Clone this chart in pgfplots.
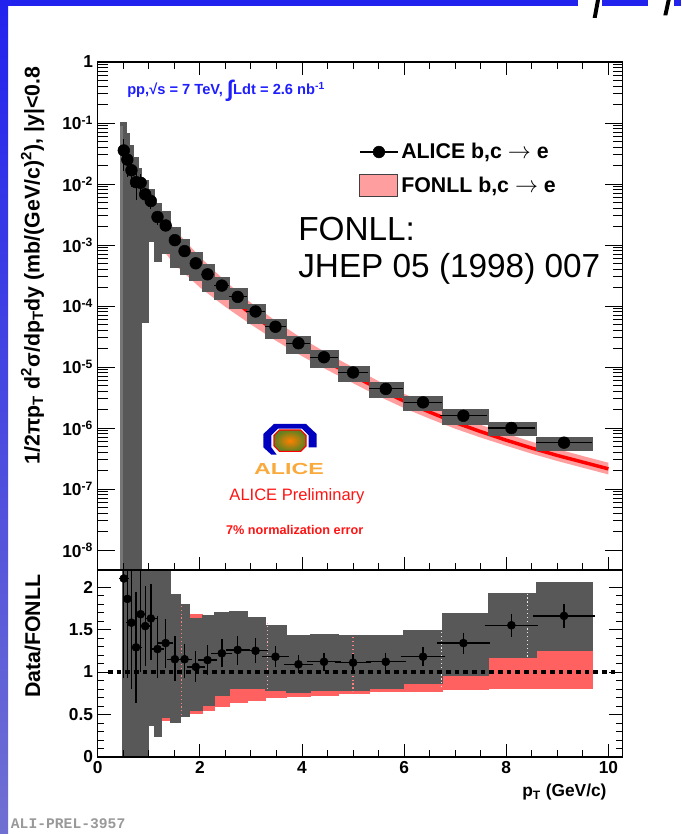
\documentclass[border=0pt]{standalone}
\usepackage{fontspec}
\setmainfont{Liberation Sans}
\newfontfamily\monofont{Liberation Mono}
\usepackage{pgfplots}
\usepackage{pgfplotstable}
\pgfplotsset{compat=1.18}
\definecolor{boxgray}{RGB}{88,88,88}
\definecolor{fonllpink}{RGB}{255,158,158}
\definecolor{ratiored}{RGB}{255,96,96}
\definecolor{fonllred}{RGB}{255,0,0}
\definecolor{ppblue}{RGB}{30,30,255}
\definecolor{alicered}{RGB}{255,20,20}
\definecolor{slideblue}{RGB}{34,34,238}
\definecolor{slidelav}{RGB}{112,112,210}
\definecolor{aliceorange}{RGB}{250,170,60}

% box helpers: xlo, xhi, low, high
\newcommand{\gbox}[4]{\addplot[fill=boxgray, draw=boxgray, line width=0.3pt, forget plot] coordinates {(#1,#3) (#2,#3) (#2,#4) (#1,#4)} -- cycle;}
\newcommand{\rbox}[4]{\addplot[fill=ratiored, draw=ratiored, line width=0.3pt, forget plot] coordinates {(#1,#3) (#2,#3) (#2,#4) (#1,#4)} -- cycle;}

% upper panel: data points (x, y, half bin width, stat error)
\pgfplotstableread{
x y ex ey
0.51 0.0355 0.035 0.019
0.58 0.0251 0.035 0.0121
0.66 0.0168 0.04 0.0080
0.75 0.01072 0.05 0.0052
0.84 0.01047 0.045 0.0040
0.93 0.00676 0.045 0.0019
1.04 0.00525 0.06 0.0013
1.17 0.00288 0.075 0.00075
1.33 0.00209 0.085 0.0004
1.51 0.00120 0.10 0.00024
1.70 7.94e-4 0.09 1.2e-4
1.92 5.01e-4 0.12 6.5e-5
2.15 3.31e-4 0.12 4e-5
2.43 2.16e-4 0.145 2.3e-5
2.74 1.41e-4 0.175 1.6e-5
3.09 8.13e-5 0.18 7e-6
3.48 4.57e-5 0.205 3.5e-6
3.93 2.45e-5 0.235 1.6e-6
4.43 1.445e-5 0.275 9e-7
5.00 8.13e-6 0.30 5.1e-7
5.64 4.37e-6 0.335 2.7e-7
6.37 2.63e-6 0.38 1.8e-7
7.16 1.585e-6 0.455 1.06e-7
8.10 1.0e-6 0.465 6.5e-8
9.13 5.75e-7 0.55 3.8e-8
}\updata

% FONLL central curve
\pgfplotstableread{
x c
0.5 1.698e-2
0.75 8.318e-3
1.0 3.802e-3
1.5 1.047e-3
2.0 3.802e-4
2.5 1.585e-4
3.0 7.413e-5
3.5 3.802e-5
4.0 2.089e-5
4.5 1.202e-5
5.0 7.244e-6
5.5 4.365e-6
6.0 2.754e-6
6.5 1.820e-6
7.0 1.230e-6
7.5 8.710e-7
8.0 6.310e-7
8.5 4.677e-7
9.0 3.548e-7
9.5 2.754e-7
10.0 2.138e-7
}\fonll

% ratio panel: points
\pgfplotstableread{
x y ex em ep
0.51 2.10 0.035 1.14 1.14
0.58 1.86 0.035 0.90 0.90
0.66 1.58 0.04 0.75 0.75
0.75 1.29 0.05 0.62 0.62
0.84 1.68 0.045 0.64 0.64
0.93 1.54 0.045 0.44 0.44
1.04 1.63 0.06 0.45 0.37
1.17 1.27 0.075 0.31 0.36
1.33 1.34 0.085 0.26 0.25
1.51 1.15 0.10 0.22 0.24
1.70 1.15 0.09 0.19 0.15
1.92 1.06 0.12 0.14 0.15
2.15 1.14 0.12 0.14 0.14
2.43 1.22 0.145 0.13 0.13
2.74 1.26 0.175 0.14 0.13
3.09 1.25 0.18 0.11 0.11
3.48 1.18 0.205 0.09 0.09
3.93 1.09 0.235 0.07 0.07
4.43 1.12 0.275 0.07 0.07
5.00 1.11 0.30 0.07 0.07
5.64 1.12 0.335 0.07 0.07
6.37 1.18 0.38 0.08 0.08
7.16 1.34 0.455 0.09 0.09
8.10 1.55 0.465 0.10 0.10
9.13 1.66 0.55 0.11 0.11
}\ratdata

\begin{document}
\begin{tikzpicture}
\fill[white] (0,0) rectangle (510.75pt,625.5pt);
% slide decorations
\shade[top color=slideblue, bottom color=slidelav] (0,0) rectangle (6pt,625.5pt);
\fill[slideblue] (0,621pt) rectangle (433.5pt,625.5pt);
\fill[slideblue] (451.5pt,621pt) rectangle (486pt,625.5pt);
\fill[slideblue] (505.5pt,621pt) rectangle (510.75pt,625.5pt);
\fill[black] (444.5pt,612pt) -- (447.5pt,612pt) -- (450pt,625.5pt) -- (447pt,625.5pt) -- cycle;
\fill[black] (497.5pt,614pt) -- (500.5pt,614pt) -- (503pt,625.5pt) -- (500pt,625.5pt) -- cycle;
\node[anchor=north west, inner sep=0pt, text=black!40, font=\monofont\bfseries\fontsize{11}{11}\selectfont] at (8pt,11.5pt) {ALI-PREL-3957};

% ---------------- upper panel ----------------
\begin{axis}[
  at={(73.3pt,579pt)}, anchor=north west,
  scale only axis, width=393.75pt, height=381pt,
  xmin=0, xmax=10.28, ymode=log, ymin=4.7e-9, ymax=1,
  xtick=\empty,
  ytick={1e-8,1e-7,1e-6,1e-5,1e-4,1e-3,1e-2,1e-1,1},
  yticklabels={10\textsuperscript{-8},10\textsuperscript{-7},10\textsuperscript{-6},10\textsuperscript{-5},10\textsuperscript{-4},10\textsuperscript{-3},10\textsuperscript{-2},10\textsuperscript{-1},1},
  yticklabel style={font=\bfseries\fontsize{13}{13}\selectfont},
  major tick length=13pt, minor tick length=7.5pt,
  tick style={line width=0.7pt, black},
  axis line style={line width=1pt},
  axis on top,
  ylabel={1/2πp\textsubscript{T} d\textsuperscript{2}σ/dp\textsubscript{T}dy (mb/(GeV/c)\textsuperscript{2}), |y|<0.8},
  ylabel style={at={(axis description cs:-0.124,1)}, anchor=east, font=\bfseries\fontsize{16}{16}\selectfont},
  legend style={at={(0.490,0.851)}, anchor=north west, draw=none, fill=none,
    font=\bfseries\fontsize{16}{19}\selectfont, row sep=8pt, cells={anchor=west}},
  legend cell align=left,
]
% FONLL uncertainty band
\addplot[fill=fonllpink, draw=none, forget plot] coordinates {
(0.5,3.23e-2) (0.75,1.539e-2) (1.0,6.84e-3) (1.5,1.822e-3) (2.0,6.39e-4) (2.5,2.536e-4)
(3.0,1.127e-4) (3.5,5.55e-5) (4.0,2.945e-5) (4.5,1.659e-5) (5.0,9.85e-6) (5.5,5.85e-6)
(6.0,3.635e-6) (6.5,2.384e-6) (7.0,1.599e-6) (7.5,1.124e-6) (8.0,8.08e-7) (8.5,5.94e-7)
(9.0,4.51e-7) (9.5,3.47e-7) (10.0,2.694e-7)
(10.0,1.732e-7) (9.5,2.231e-7) (9.0,2.874e-7) (8.5,3.79e-7) (8.0,5.11e-7) (7.5,6.97e-7)
(7.0,9.72e-7) (6.5,1.420e-6) (6.0,2.121e-6) (5.5,3.317e-6) (5.0,5.43e-6) (4.5,8.89e-6)
(4.0,1.504e-5) (3.5,2.661e-5) (3.0,4.97e-5) (2.5,9.67e-5) (2.0,2.015e-4) (1.5,4.82e-4)
(1.0,1.635e-3) (0.75,3.58e-3) (0.5,7.30e-3)
} -- cycle;
\addplot[fonllred, line width=2.6pt, forget plot] table[x=x,y=c]{\fonll};
% data systematic boxes
\gbox{0.44}{0.55}{1e-9}{0.1023}
\gbox{0.55}{0.62}{1e-9}{0.06918}
\gbox{0.62}{0.70}{1e-9}{0.04365}
\gbox{0.70}{0.80}{1e-9}{0.02754}
\gbox{0.80}{0.86}{1e-9}{0.01820}
\gbox{0.86}{0.98}{5.495e-5}{0.01175}
\gbox{0.98}{1.10}{1.175e-3}{8.318e-3}
\gbox{1.10}{1.25}{5.495e-4}{4.786e-3}
\gbox{1.25}{1.42}{7.33e-4}{3.548e-3}
\gbox{1.42}{1.62}{4.285e-4}{1.995e-3}
\gbox{1.62}{1.80}{3.319e-4}{1.245e-3}
\gbox{1.80}{2.04}{2.600e-4}{7.71e-4}
\gbox{2.04}{2.28}{1.770e-4}{4.853e-4}
\gbox{2.28}{2.57}{1.294e-4}{3.013e-4}
\gbox{2.57}{2.92}{9.08e-5}{1.928e-4}
\gbox{2.92}{3.28}{5.27e-5}{1.074e-4}
\gbox{3.28}{3.69}{2.985e-5}{6.003e-5}
\gbox{3.69}{4.16}{1.710e-5}{3.231e-5}
\gbox{4.16}{4.71}{1.007e-5}{1.871e-5}
\gbox{4.71}{5.31}{5.78e-6}{1.047e-5}
\gbox{5.31}{5.98}{3.155e-6}{5.57e-6}
\gbox{5.98}{6.74}{1.941e-6}{3.319e-6}
\gbox{6.74}{7.65}{1.140e-6}{2.0e-6}
\gbox{7.65}{8.58}{7.55e-7}{1.245e-6}
\gbox{8.58}{9.68}{4.365e-7}{7.14e-7}
\addplot[draw=none, fill=boxgray!82!white, forget plot] coordinates {(0.44,1e-9) (0.49,1e-9) (0.49,0.09) (0.44,0.09)} -- cycle;
\addplot[black, only marks, mark=*, mark size=4.4pt, forget plot,
  error bars/.cd, y dir=both, y explicit, x dir=both, x explicit, error mark=none,
  error bar style={line width=0.8pt, black}]
  table[x=x, y=y, x error=ex, y error=ey]{\updata};
\addlegendimage{legend image code/.code={\draw[black, line width=1pt] (0pt,0pt) -- (28.5pt,0pt); \fill[black] (14.25pt,0pt) circle (4.4pt);}}
\addlegendentry{ALICE b,c $\rightarrow$ e}
\addlegendimage{legend image code/.code={\draw[draw=black!75, line width=0.8pt, fill=fonllpink] (0pt,-8pt) rectangle (28.5pt,8pt);}}
\addlegendentry{FONLL b,c $\rightarrow$ e}
\end{axis}
% overlay for upper x ticks
\begin{axis}[
  at={(73.3pt,579pt)}, anchor=north west,
  scale only axis, width=393.75pt, height=381pt,
  xmin=0, xmax=10.28, ymin=0, ymax=1,
  xtick={0,2,4,6,8,10}, minor x tick num=3, xticklabels={},
  ytick=\empty,
  major tick length=10pt, minor tick length=5pt,
  tick style={line width=0.7pt, black},
  axis line style={line width=1pt},
]
\addplot[draw=none] coordinates {(1,0.5)};
\end{axis}

% texts in upper panel
\node[anchor=west, text=ppblue, font=\bfseries\fontsize{11}{11}\selectfont, inner sep=0pt] at (95.25pt,557.5pt)
  {pp,√s = 7 TeV, \raisebox{-0.25ex}{\fontsize{17}{17}\selectfont ∫}Ldt = 2.6 nb\textsuperscript{-1}};
\node[anchor=west, font=\fontsize{25}{25}\selectfont, inner sep=0pt] at (223.5pt,454pt) {FONLL:};
\node[anchor=west, font=\fontsize{25}{25}\selectfont, inner sep=0pt] at (223.5pt,423.5pt) {JHEP 05 (1998) 007};
% ALICE logo
\begin{scope}[shift={(217.5pt,296pt)}]
  \fill[blue!75!black] (20pt,4pt) -- (12pt,11.5pt) -- (-12pt,11.5pt) -- (-20pt,4pt) -- (-20pt,-6pt) -- (-14pt,-11.5pt) -- (-10pt,-11.5pt) -- (-14pt,-6pt) -- (-14pt,3pt) -- (-9pt,8pt) -- (9pt,8pt) -- (14pt,3pt) -- (14pt,-6pt) -- (20pt,-6pt) -- cycle;
  \shade[inner color=orange, outer color=green!50!purple, draw=red, line width=0.8pt] (12pt,3pt) -- (8pt,7pt) -- (-8pt,7pt) -- (-12pt,3pt) -- (-12pt,-5pt) -- (-8pt,-9pt) -- (8pt,-9pt) -- (12pt,-5pt) -- cycle;
\end{scope}
\node[text=aliceorange, font=\bfseries\fontsize{12}{12}\selectfont, inner sep=0pt] at (216.75pt,274pt) {\scalebox{1.45}[1]{ALICE}};
\node[text=alicered, font=\fontsize{12.4}{12.4}\selectfont, inner sep=0pt] at (222.75pt,253pt) {ALICE Preliminary};
\node[text=alicered, font=\bfseries\fontsize{9.5}{9.5}\selectfont, inner sep=0pt] at (221pt,228pt) {7\% normalization error};

% ---------------- ratio panel ----------------
\begin{axis}[
  at={(73.3pt,198pt)}, anchor=north west,
  scale only axis, width=393.75pt, height=140.25pt,
  xmin=0, xmax=10.28, ymin=0, ymax=2.2,
  xtick={0,2,4,6,8,10}, minor x tick num=3, xtick pos=lower,
  xticklabels={0,2,4,6,8,10},
  ytick={0,0.5,1,1.5,2}, minor y tick num=4,
  yticklabels={0,0.5,1,1.5,2},
  ticklabel style={font=\bfseries\fontsize{13}{13}\selectfont},
  major tick length=10pt, minor tick length=5pt,
  tick style={line width=0.7pt, black},
  axis line style={line width=1pt},
  axis on top,
  xlabel={p\textsubscript{T} (GeV/c)},
  xlabel style={at={(axis description cs:0.978,0)}, anchor=north east, yshift=-17pt, font=\bfseries\fontsize{13}{13}\selectfont},
  ylabel={Data/FONLL},
  ylabel style={at={(axis description cs:-0.124,1)}, anchor=east, font=\bfseries\fontsize{16}{16}\selectfont},
]
% FONLL band relative to central value
\rbox{0.48}{1.25}{0.43}{2.3}
\rbox{1.25}{1.42}{0.43}{2.3}
\rbox{1.42}{1.62}{0.45}{1.75}
\rbox{1.62}{1.80}{0.49}{1.72}
\rbox{1.80}{2.04}{0.52}{1.68}
\rbox{2.04}{2.28}{0.55}{1.65}
\rbox{2.28}{2.57}{0.60}{1.60}
\rbox{2.57}{2.92}{0.64}{1.55}
\rbox{2.92}{3.28}{0.67}{1.50}
\rbox{3.28}{3.69}{0.70}{1.45}
\rbox{3.69}{4.16}{0.71}{1.40}
\rbox{4.16}{4.71}{0.73}{1.38}
\rbox{4.71}{5.31}{0.75}{1.36}
\rbox{5.31}{5.98}{0.77}{1.34}
\rbox{5.98}{6.74}{0.77}{1.32}
\rbox{6.74}{7.65}{0.80}{1.30}
\rbox{7.65}{8.58}{0.81}{1.28}
\rbox{8.58}{9.68}{0.81}{1.26}
% data systematics relative to FONLL
\gbox{0.48}{0.98}{-0.1}{2.4}
\gbox{0.98}{1.10}{0.37}{2.4}
\gbox{1.10}{1.25}{0.25}{2.4}
\gbox{1.25}{1.42}{0.47}{2.4}
\gbox{1.42}{1.62}{0.41}{1.91}
\gbox{1.62}{1.80}{0.48}{1.80}
\gbox{1.80}{2.04}{0.55}{1.63}
\gbox{2.04}{2.28}{0.61}{1.67}
\gbox{2.28}{2.57}{0.73}{1.70}
\gbox{2.57}{2.92}{0.81}{1.72}
\gbox{2.92}{3.28}{0.81}{1.65}
\gbox{3.28}{3.69}{0.78}{1.55}
\gbox{3.69}{4.16}{0.76}{1.435}
\gbox{4.16}{4.71}{0.78}{1.45}
\gbox{4.71}{5.31}{0.79}{1.43}
\gbox{5.31}{5.98}{0.81}{1.43}
\gbox{5.98}{6.74}{0.87}{1.49}
\gbox{6.74}{7.65}{0.965}{1.69}
\gbox{7.65}{8.58}{1.17}{1.93}
\gbox{8.58}{9.68}{1.26}{2.06}
\addplot[ratiored!80!white, dotted, line width=0.9pt] coordinates {(1.64,0.49) (1.64,1.78)};
\addplot[ratiored!50!white, dotted, line width=0.9pt] coordinates {(3.32,0.80) (3.32,1.58)};
\addplot[ratiored!80!white, dotted, line width=0.9pt] coordinates {(5.00,0.76) (5.00,1.42)};
\addplot[white!85!gray, dotted, line width=0.9pt] coordinates {(6.73,0.82) (6.73,1.47)};
\addplot[white!85!gray, dotted, line width=0.9pt] coordinates {(8.42,1.18) (8.42,1.93)};
\addplot[black, line width=2.3pt, dash pattern=on 3.5pt off 3pt] coordinates {(0.2,1) (10.15,1)};
\addplot[black, only marks, mark=*, mark size=3pt,
  error bars/.cd, y dir=both, y explicit, x dir=both, x explicit,
  error mark options={black, line width=1pt, mark size=2.2pt},
  error bar style={line width=1pt, black}]
  table[x=x, y=y, x error=ex, y error plus=ep, y error minus=em]{\ratdata};
\end{axis}
\end{tikzpicture}
\end{document}
